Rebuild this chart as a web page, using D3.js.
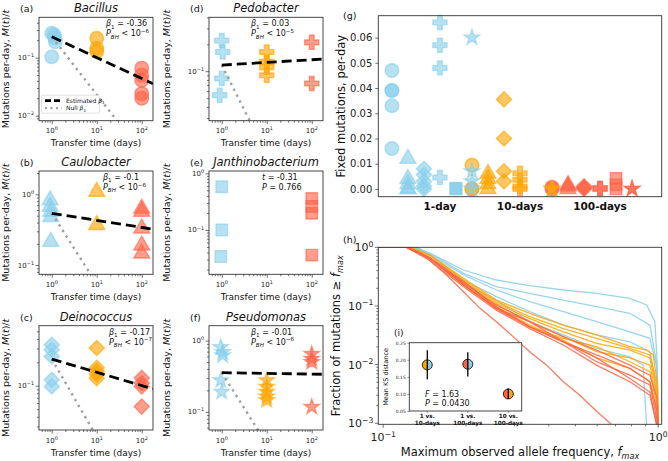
<!DOCTYPE html>
<html>
<head>
<meta charset="utf-8">
<script src="https://cdn.jsdelivr.net/npm/d3@7"></script>
<style>
  body { margin: 0; background: #fff; }
  svg { display: block; font-family: "DejaVu Sans", sans-serif; }
</style>
</head>
<body>
<svg width="668" height="461"></svg>
<script>
// colours for the three transfer times
const colDay1 = "#87CEEB", colDay10 = "#FFA500", colDay100 = "#FF6347";

// (a)-(f): mutations per day, [transfer time, M(t)/t]
const bacillusPts = [[1,0.264],[1.12,0.25],[1.18,0.22],[1.2,0.189],[1,0.104],[10,0.216],[10,0.145],[10,0.127],[100,0.066],[100,0.05],[100,0.041],[100,0.024],[100,0.02]];
const caulobacterPts = [[0.92,0.83],[0.92,0.67],[0.95,0.57],[0.95,0.48],[0.95,0.214],[10,1.09],[10,0.37],[100,0.63],[100,0.57],[100,0.33],[100,0.19],[100,0.146]];
const deinococcusPts = [[1,0.336],[1,0.29],[1,0.238],[1,0.119],[1,0.098],[10,0.305],[10,0.17],[10,0.155],[10,0.14],[10,0.125],[100,0.126],[100,0.108],[100,0.098],[100,0.054]];
const pedobacterPts = [[1,0.22],[1.05,0.164],[1,0.083],[0.9,0.054],[10,0.164],[10,0.127],[10,0.111],[10,0.09],[100,0.21],[100,0.073]];
const janthinoPts = [[1,0.58],[1,0.1],[0.95,0.034],[100,0.36],[100,0.26],[100,0.197],[100,0.036]];
const pseudomonasPts = [[0.95,0.81],[1.05,0.69],[1.05,0.62],[0.95,0.277],[1,0.19],[10,0.277],[10,0.224],[10,0.19],[10,0.163],[10,0.146],[100,0.65],[100,0.555],[100,0.5],[100,0.117]];

// fitted lines [value at t=1, beta1]
const fitBacillus = [0.23, -0.36];
const fitCaulobacter = [0.54, -0.1];
const fitDeinococcus = [0.22, -0.17];
const fitPedobacter = [0.117, 0.03];
const fitPseudomonas = [0.355, -0.01];

const speciesNames = ["Bacillus", "Caulobacter", "Deinococcus", "Pedobacter", "Janthinobacterium", "Pseudomonas"];
const betaLabels = ["-0.36", "-0.1", "-0.17", "0.03", null, "-0.01"];
const pbhExps = ["\u22126", "\u22126", "\u22127", "\u22125", null, "\u22126"];
const janthinoT = "-0.31", janthinoP = "0.766";

// (g): fixed mutations per day, per species: [1-day, 10-days, 100-days]
const fixedBacillus = [[0.047,0.039,0.039,0.033,0.016],[0.0095,0,0],[0.0007,0]];
const fixedCaulobacter = [[0.012,0.004,0.002,0,0],[0.006,0.004,0.002,0],[0.0016,0.001,0]];
const fixedDeinococcus = [[0.008,0.0056,0.003,0.001,0],[0.0355,0.020,0.007,0.003],[0.001,0.0005,0]];
const fixedPedobacter = [[0.066,0.057,0.048,0.0045],[0.0062,0.0036,0.0009,0],[0.0003,0]];
const fixedJanthino = [[0,0,0.0003],[],[0.0042,0.0016,0]];
const fixedPseudomonas = [[0.060,0.007,0.003,0],[0,0],[0,0]];
const groupLabels = ["1-day", "10-days", "100-days"];

// (h): fraction of mutations >= f_max, [f_max, fraction]
const blueCurves = [
  [[0.096,1],[0.129,1],[0.148,0.79],[0.196,0.41],[0.258,0.277],[0.341,0.222],[0.452,0.187],[0.597,0.164],[0.789,0.135],[0.908,0.104],[0.973,0.054],[0.99,0.013],[1.0,0.0009]],
  [[0.096,1],[0.132,1],[0.156,0.69],[0.196,0.36],[0.258,0.213],[0.341,0.164],[0.452,0.126],[0.597,0.097],[0.789,0.075],[0.933,0.047],[0.99,0.0098],[1.0,0.0009]],
  [[0.096,1],[0.132,1],[0.156,0.65],[0.196,0.337],[0.258,0.187],[0.341,0.118],[0.452,0.080],[0.597,0.054],[0.789,0.036],[0.933,0.028],[0.99,0.0086],[1.0,0.0009]],
  [[0.096,1],[0.13,1],[0.15,0.7],[0.196,0.243],[0.258,0.126],[0.341,0.054],[0.452,0.032],[0.597,0.0189],[0.789,0.0136],[0.881,0.0098],[0.908,0.0009]],
  [[0.096,1],[0.13,1],[0.15,0.7],[0.196,0.277],[0.258,0.144],[0.341,0.080],[0.452,0.047],[0.597,0.032],[0.789,0.0245],[0.933,0.0166],[0.973,0.0066],[0.986,0.0009]]
];
const orangeCurves = [
  [[0.096,1],[0.125,1],[0.148,0.74],[0.196,0.296],[0.258,0.126],[0.341,0.075],[0.452,0.047],[0.597,0.032],[0.789,0.0202],[0.908,0.0177],[0.959,0.0146],[0.995,0.0045],[1.0,0.0009]],
  [[0.096,1],[0.125,1],[0.148,0.65],[0.196,0.26],[0.258,0.111],[0.341,0.061],[0.452,0.036],[0.597,0.023],[0.789,0.0177],[0.933,0.013],[0.99,0.0034],[1.0,0.0009]],
  [[0.096,1],[0.124,1],[0.148,0.66],[0.196,0.243],[0.258,0.104],[0.341,0.054],[0.452,0.030],[0.597,0.0166],[0.789,0.013],[0.933,0.0098],[0.99,0.0027],[1.0,0.0009]],
  [[0.096,1],[0.124,1],[0.148,0.64],[0.196,0.228],[0.258,0.097],[0.341,0.047],[0.452,0.026],[0.597,0.013],[0.789,0.0086],[0.933,0.0051],[0.99,0.0016],[1.0,0.0009]],
  [[0.096,1],[0.126,1],[0.15,0.7],[0.196,0.277],[0.258,0.118],[0.341,0.066],[0.452,0.041],[0.597,0.028],[0.789,0.0189],[0.933,0.0146],[0.99,0.0045],[1.0,0.0009]],
  [[0.096,1],[0.125,1],[0.148,0.66],[0.196,0.26],[0.258,0.091],[0.341,0.044],[0.452,0.028],[0.597,0.0202],[0.789,0.0112],[0.933,0.0076],[0.99,0.002],[1.0,0.0009]]
];
const redCurves = [
  [[0.096,1],[0.1216,1],[0.140,0.74],[0.170,0.337],[0.196,0.175],[0.225,0.091],[0.258,0.054],[0.297,0.030],[0.341,0.0166],[0.393,0.0098],[0.452,0.0051],[0.519,0.003],[0.597,0.0016],[0.686,0.0009]],
  [[0.096,1],[0.122,1],[0.148,0.65],[0.196,0.228],[0.258,0.091],[0.341,0.044],[0.452,0.0245],[0.597,0.0146],[0.789,0.0086],[0.933,0.0051],[0.99,0.0016],[1.0,0.0009]],
  [[0.096,1],[0.122,1],[0.148,0.65],[0.196,0.243],[0.258,0.104],[0.341,0.054],[0.452,0.0245],[0.597,0.013],[0.789,0.0058],[0.933,0.0034],[0.99,0.0009]],
  [[0.096,1],[0.121,1],[0.146,0.62],[0.196,0.213],[0.258,0.085],[0.341,0.041],[0.452,0.0216],[0.597,0.0098],[0.789,0.0051],[0.933,0.003],[0.99,0.0009]],
  [[0.096,1],[0.123,1],[0.148,0.66],[0.196,0.26],[0.258,0.097],[0.341,0.044],[0.452,0.0245],[0.597,0.0112],[0.789,0.0066],[0.933,0.0045],[1.0,0.0009]],
  [[0.096,1],[0.122,1],[0.148,0.64],[0.196,0.228],[0.258,0.091],[0.341,0.054],[0.452,0.030],[0.597,0.0177],[0.789,0.0098],[0.933,0.0066],[0.99,0.00265],[1.0,0.0009]]
];

// (i): mean KS distance between transfer times
const ksLabels = [["1 vs.", "10-days"], ["1 vs.", "100-days"], ["10 vs.", "100-days"]];
const ksMean = [0.185, 0.187, 0.100];
const ksLow = [0.143, 0.151, 0.085];
const ksHigh = [0.228, 0.222, 0.116];
const ksColours = [[colDay10, colDay1], [colDay100, colDay1], [colDay100, colDay10]];
const ksF = "1.63", ksP = "0.0430";

const svg = d3.select("svg");
svg.append("rect").attr("width", 668).attr("height", 461).attr("fill", "#fff");
const axisCol = "#333";

// text with italic / sub / superscript pieces
function rich(sel, segs, size) {
  let shift = 0;
  segs.forEach(function (s) {
    const txt = s[0], st = s[1] || "";
    let target = 0, fs = size;
    if (st.indexOf("sub") >= 0) { target = 0.28 * size; fs = size * 0.7; }
    if (st.indexOf("sup") >= 0) { target = -0.42 * size; fs = size * 0.7; }
    const ts = sel.append("tspan").attr("dy", target - shift).attr("font-size", fs).text(txt);
    if (st.charAt(0) === "i") ts.attr("font-style", "italic");
    shift = target;
  });
  return sel;
}
function tenPow(e) { return [["10"], [e < 0 ? "\u2212" + (-e) : "" + e, "sup"]]; }

function logTicks(dom) {
  const out = [];
  const lo = Math.floor(Math.log10(dom[0])), hi = Math.ceil(Math.log10(dom[1]));
  for (let d = lo; d <= hi; d++) {
    for (let k = 1; k < 10; k++) {
      const v = k * Math.pow(10, d);
      if (v >= dom[0] * 0.9999 && v <= dom[1] * 1.0001) out.push({ v: v, major: k === 1, e: d });
    }
  }
  return out;
}

function colourFor(t) { return t < 3 ? colDay1 : (t < 30 ? colDay10 : colDay100); }

const shapes = {
  circle: d3.symbol().type(d3.symbolCircle).size(145)(),
  triangle: d3.symbol().type(d3.symbolTriangle).size(110)(),
  diamond: d3.symbol().type(d3.symbolSquare).size(115)(),
  plus: d3.symbol().type(d3.symbolCross).size(110)(),
  square: d3.symbol().type(d3.symbolSquare).size(130)(),
  star: d3.symbol().type(d3.symbolStar).size(72)()
};
const speciesShapes = ["circle", "triangle", "diamond", "plus", "square", "star"];

function marker(g, shape, cx, cy, col) {
  g.append("path")
    .attr("d", shapes[shape])
    .attr("transform", "translate(" + cx + "," + cy + ")" + (shape === "diamond" ? " rotate(45)" : ""))
    .attr("fill", col).attr("fill-opacity", 0.62)
    .attr("stroke", col).attr("stroke-opacity", 0.62).attr("stroke-width", 1.4);
}

function frame(g, x0, y0, x1, y1) {
  g.append("rect").attr("x", x0).attr("y", y0).attr("width", x1 - x0).attr("height", y1 - y0)
    .attr("fill", "none").attr("stroke", axisCol).attr("stroke-width", 0.9);
}

// ---------- (a)-(f) ----------
const xRate = [0.52, 178];
const ratePanels = [
  { id: "a", pts: bacillusPts, fit: fitBacillus, x0: 39, x1: 153, y0: 17.3, y1: 120.7, ydom: [0.0082, 0.497], tx: 106, legend: true },
  { id: "b", pts: caulobacterPts, fit: fitCaulobacter, x0: 39, x1: 153, y0: 171, y1: 274.3, ydom: [0.074, 2.14], tx: 103 },
  { id: "c", pts: deinococcusPts, fit: fitDeinococcus, x0: 39, x1: 153, y0: 325.7, y1: 430, ydom: [0.027, 0.59], tx: 109 },
  { id: "d", pts: pedobacterPts, fit: fitPedobacter, x0: 209, x1: 323, y0: 17.3, y1: 120.7, ydom: [0.028, 0.40], tx: 251 },
  { id: "e", pts: janthinoPts, fit: null, x0: 209, x1: 323, y0: 171, y1: 274.3, ydom: [0.0165, 1.1], tx: 262 },
  { id: "f", pts: pseudomonasPts, fit: fitPseudomonas, x0: 209, x1: 323, y0: 325.7, y1: 430, ydom: [0.0556, 1.62], tx: 251 }
];

ratePanels.forEach(function (p, i) {
  const x = d3.scaleLog().domain(xRate).range([p.x0, p.x1]);
  const y = d3.scaleLog().domain(p.ydom).range([p.y1, p.y0]);
  const g = svg.append("g");
  const clip = "url(#clip" + p.id + ")";
  g.append("clipPath").attr("id", "clip" + p.id).append("rect")
    .attr("x", p.x0).attr("y", p.y0).attr("width", p.x1 - p.x0).attr("height", p.y1 - p.y0);

  // ticks
  const xt = logTicks(xRate), yt = logTicks(p.ydom);
  g.append("g").attr("transform", "translate(0," + p.y1 + ")")
    .call(d3.axisBottom(x).tickValues(xt.filter(d => !d.major).map(d => d.v)).tickSize(2).tickFormat(""))
    .call(a => a.select(".domain").remove());
  g.append("g").attr("transform", "translate(0," + p.y1 + ")")
    .call(d3.axisBottom(x).tickValues(xt.filter(d => d.major).map(d => d.v)).tickSize(3.5).tickFormat(""))
    .call(a => a.select(".domain").remove());
  g.append("g").attr("transform", "translate(" + p.x0 + ",0)")
    .call(d3.axisLeft(y).tickValues(yt.filter(d => !d.major).map(d => d.v)).tickSize(2).tickFormat(""))
    .call(a => a.select(".domain").remove());
  g.append("g").attr("transform", "translate(" + p.x0 + ",0)")
    .call(d3.axisLeft(y).tickValues(yt.filter(d => d.major).map(d => d.v)).tickSize(3.5).tickFormat(""))
    .call(a => a.select(".domain").remove());
  g.selectAll(".tick line").attr("stroke", axisCol).attr("stroke-width", 0.7);

  xt.filter(d => d.major).forEach(function (d) {
    rich(g.append("text").attr("x", x(d.v)).attr("y", p.y1 + 12.5).attr("text-anchor", "middle")
      .attr("fill", "#222").attr("font-size", 7), tenPow(d.e), 7);
  });
  yt.filter(d => d.major).forEach(function (d) {
    rich(g.append("text").attr("x", p.x0 - 5).attr("y", y(d.v) + 2.5).attr("text-anchor", "end")
      .attr("fill", "#222").attr("font-size", 7), tenPow(d.e), 7);
  });

  // markers
  const mg = g.append("g").attr("clip-path", clip);
  p.pts.forEach(function (d) {
    marker(mg, speciesShapes[i], x(d[0]), y(d[1]), colourFor(d[0]));
  });

  // estimated and null slopes
  if (p.fit) {
    const a = p.fit[0], b = p.fit[1];
    const fitLine = d3.line().x(d => x(d)).y(d => y(a * Math.pow(d, b)));
    const nullLine = d3.line().x(d => x(d)).y(d => y(a / d));
    g.append("path").datum([1, 100]).attr("d", nullLine).attr("clip-path", clip)
      .attr("fill", "none").attr("stroke", "#a0a0a0").attr("stroke-width", 2.4).attr("stroke-dasharray", "2.4,4.2");
    g.append("path").datum([1, xRate[1]]).attr("d", fitLine).attr("clip-path", clip)
      .attr("fill", "none").attr("stroke", "#000").attr("stroke-width", 2.8).attr("stroke-dasharray", "10,5");
  }

  frame(g, p.x0, p.y0, p.x1, p.y1);

  // titles and labels
  g.append("text").attr("x", (p.x0 + p.x1) / 2).attr("y", p.y0 - 5).attr("text-anchor", "middle")
    .attr("font-size", 11.5).attr("font-style", "italic").attr("fill", "#111").text(speciesNames[i]);
  g.append("text").attr("x", p.x0 - 19).attr("y", p.y0 - 5).attr("font-size", 9.5).attr("fill", "#111").text("(" + p.id + ")");
  g.append("text").attr("x", (p.x0 + p.x1) / 2).attr("y", p.y1 + 25.5).attr("text-anchor", "middle")
    .attr("font-size", 9).attr("fill", "#111").text("Transfer time (days)");
  const lx = p.x0 < 100 ? 9 : 170, ly = (p.y0 + p.y1) / 2;
  rich(g.append("text").attr("transform", "translate(" + lx + "," + ly + ") rotate(-90)").attr("text-anchor", "middle")
    .attr("dy", "0.35em").attr("fill", "#111").attr("font-size", 9.5),
    [["Mutations per-day, "], ["M", "i"], ["("], ["t", "i"], [")/"], ["t", "i"]], 9.5);

  // statistics
  const s1 = g.append("text").attr("x", p.tx).attr("y", p.y0 + 9).attr("font-size", 8).attr("fill", "#111");
  const s2 = g.append("text").attr("x", p.tx).attr("y", p.y0 + 19).attr("font-size", 8).attr("fill", "#111");
  if (p.fit) {
    rich(s1, [["\u03b2", "i"], ["1", "sub"], [" = " + betaLabels[i]]], 8);
    rich(s2, [["P", "i"], ["BH", "isub"], [" < 10"], [pbhExps[i], "sup"]], 8);
  } else {
    rich(s1, [["t", "i"], [" = " + janthinoT]], 8);
    rich(s2, [["P", "i"], [" = " + janthinoP]], 8);
  }

  if (p.legend) {
    const lg = g.append("g");
    lg.append("rect").attr("x", p.x0 + 2.5).attr("y", p.y1 - 25.5).attr("width", 58).attr("height", 18)
      .attr("rx", 1.5).attr("fill", "#fff").attr("fill-opacity", 0.85).attr("stroke", "#ccc").attr("stroke-width", 0.6);
    lg.append("line").attr("x1", p.x0 + 6).attr("x2", p.x0 + 23).attr("y1", p.y1 - 20).attr("y2", p.y1 - 20)
      .attr("stroke", "#000").attr("stroke-width", 2.8).attr("stroke-dasharray", "6,3");
    lg.append("line").attr("x1", p.x0 + 6).attr("x2", p.x0 + 23).attr("y1", p.y1 - 12.5).attr("y2", p.y1 - 12.5)
      .attr("stroke", "#a0a0a0").attr("stroke-width", 2.2).attr("stroke-dasharray", "2,3.5");
    rich(lg.append("text").attr("x", p.x0 + 27).attr("y", p.y1 - 18).attr("font-size", 6).attr("fill", "#111"),
      [["Estimated "], ["\u03b2", "i"], ["1", "sub"]], 6);
    rich(lg.append("text").attr("x", p.x0 + 27).attr("y", p.y1 - 10.5).attr("font-size", 6).attr("fill", "#111"),
      [["Null "], ["\u03b2", "i"], ["1", "sub"]], 6);
  }
});

// ---------- (g) ----------
(function () {
  const x0 = 378.3, x1 = 661.7, y0 = 15.7, y1 = 196.7;
  const x = d3.scaleLinear().domain([-0.77, 2.77]).range([x0, x1]);
  const y = d3.scaleLinear().domain([-0.0031, 0.0687]).range([y1, y0]);
  const g = svg.append("g");
  const fixedAll = [fixedBacillus, fixedCaulobacter, fixedDeinococcus, fixedPedobacter, fixedJanthino, fixedPseudomonas];
  const groupCols = [colDay1, colDay10, colDay100];
  fixedAll.forEach(function (sp, si) {
    sp.forEach(function (vals, gi) {
      vals.forEach(function (v) {
        marker(g, speciesShapes[si], x(gi + (si - 3) * 0.2), y(v), groupCols[gi]);
      });
    });
  });
  g.append("g").attr("transform", "translate(" + x0 + ",0)")
    .call(d3.axisLeft(y).tickValues([0, 0.01, 0.02, 0.03, 0.04, 0.05, 0.06]).tickSize(3).tickPadding(3).tickFormat(d3.format(".2f")))
    .call(a => a.select(".domain").remove())
    .call(a => a.selectAll("text").attr("font-size", 10).attr("fill", "#222").attr("font-family", "DejaVu Sans"))
    .call(a => a.selectAll("line").attr("stroke", axisCol).attr("stroke-width", 0.7));
  groupLabels.forEach(function (l, gi) {
    g.append("text").attr("x", x(gi)).attr("y", y1 + 13).attr("text-anchor", "middle")
      .attr("font-size", 10.5).attr("font-weight", "bold").attr("fill", "#111").text(l);
  });
  frame(g, x0, y0, x1, y1);
  g.append("text").attr("transform", "translate(341," + (y0 + y1) / 2 + ") rotate(-90)").attr("text-anchor", "middle")
    .attr("dy", "0.35em").attr("font-size", 11.5).attr("fill", "#111").text("Fixed mutations, per-day");
  g.append("text").attr("x", 343).attr("y", 19).attr("font-size", 9.5).attr("fill", "#111").text("(g)");
})();

// ---------- (h) and inset (i) ----------
(function () {
  const x0 = 378.3, x1 = 661.7, y0 = 247.3, y1 = 424.3;
  const xd = [0.096, 1.03], yd = [0.00096, 1];
  const x = d3.scaleLog().domain(xd).range([x0, x1]);
  const y = d3.scaleLog().domain(yd).range([y1, y0]);
  const g = svg.append("g");
  g.append("clipPath").attr("id", "cliph").append("rect").attr("x", x0).attr("y", y0).attr("width", x1 - x0).attr("height", y1 - y0);
  const line = d3.line().x(d => x(d[0])).y(d => y(d[1]));
  const lg = g.append("g").attr("clip-path", "url(#cliph)");
  [[blueCurves, colDay1], [orangeCurves, colDay10], [redCurves, colDay100]].forEach(function (set) {
    set[0].forEach(function (c) {
      lg.append("path").datum(c).attr("d", line).attr("fill", "none")
        .attr("stroke", set[1]).attr("stroke-opacity", 0.85).attr("stroke-width", 1.3);
    });
  });

  const xt = logTicks(xd), yt = logTicks(yd);
  xt.forEach(function (d) {
    g.append("line").attr("x1", x(d.v)).attr("x2", x(d.v)).attr("y1", y1).attr("y2", y1 + (d.major ? 3.5 : 2))
      .attr("stroke", axisCol).attr("stroke-width", 0.7);
  });
  yt.forEach(function (d) {
    g.append("line").attr("x1", x0 - (d.major ? 3.5 : 2)).attr("x2", x0).attr("y1", y(d.v)).attr("y2", y(d.v))
      .attr("stroke", axisCol).attr("stroke-width", 0.7);
  });
  xt.filter(d => d.major).forEach(function (d) {
    rich(g.append("text").attr("x", x(d.v)).attr("y", y1 + 17).attr("text-anchor", "middle")
      .attr("font-size", 11).attr("fill", "#222"), tenPow(d.e), 11);
  });
  yt.filter(d => d.major).forEach(function (d) {
    rich(g.append("text").attr("x", x0 - 5).attr("y", y(d.v) + 4).attr("text-anchor", "end")
      .attr("font-size", 11).attr("fill", "#222"), tenPow(d.e), 11);
  });
  frame(g, x0, y0, x1, y1);
  rich(g.append("text").attr("x", (x0 + x1) / 2).attr("y", 456).attr("text-anchor", "middle").attr("font-size", 11.5).attr("fill", "#111"),
    [["Maximum observed allele frequency, "], ["f", "i"], ["max", "isub"]], 11.5);
  rich(g.append("text").attr("transform", "translate(340," + (y0 + y1) / 2 + ") rotate(-90)").attr("text-anchor", "middle")
    .attr("dy", "0.35em").attr("font-size", 11.5).attr("fill", "#111"),
    [["Fraction of mutations \u2265 "], ["f", "i"], ["max", "isub"]], 11.5);
  g.append("text").attr("x", 343).attr("y", 243).attr("font-size", 9.5).attr("fill", "#111").text("(h)");

  // inset
  const ix0 = 409.3, ix1 = 521.7, iy0 = 342.7, iy1 = 411;
  const ix = d3.scaleLinear().domain([-0.444, 2.33]).range([ix0, ix1]);
  const iy = d3.scaleLinear().domain([0.05, 0.25]).range([iy1, iy0]);
  const ig = svg.append("g");
  ig.append("rect").attr("x", ix0).attr("y", iy0).attr("width", ix1 - ix0).attr("height", iy1 - iy0).attr("fill", "#fff");
  ig.append("g").attr("transform", "translate(" + ix0 + ",0)")
    .call(d3.axisLeft(iy).tickValues([0.05, 0.10, 0.15, 0.20, 0.25]).tickSize(2).tickPadding(1.5).tickFormat(d3.format(".2f")))
    .call(a => a.select(".domain").remove())
    .call(a => a.selectAll("text").attr("font-size", 4.5).attr("fill", "#222").attr("font-family", "DejaVu Sans"))
    .call(a => a.selectAll("line").attr("stroke", axisCol).attr("stroke-width", 0.5));
  ksLabels.forEach(function (l, k) {
    ig.append("line").attr("x1", ix(k)).attr("x2", ix(k)).attr("y1", iy1).attr("y2", iy1 + 2).attr("stroke", axisCol).attr("stroke-width", 0.5);
    ig.append("text").attr("x", ix(k)).attr("y", iy1 + 7).attr("text-anchor", "middle").attr("font-size", 5.7)
      .attr("font-weight", "bold").attr("fill", "#111").text(l[0]);
    ig.append("text").attr("x", ix(k)).attr("y", iy1 + 13.5).attr("text-anchor", "middle").attr("font-size", 5.7)
      .attr("font-weight", "bold").attr("fill", "#111").text(l[1]);
  });
  const half = d3.arc().innerRadius(0).outerRadius(5);
  ksMean.forEach(function (m, k) {
    const cg = ig.append("g").attr("transform", "translate(" + ix(k) + "," + iy(m) + ")");
    cg.append("path").attr("d", half({ startAngle: Math.PI, endAngle: 2 * Math.PI })).attr("fill", ksColours[k][0]);
    cg.append("path").attr("d", half({ startAngle: 0, endAngle: Math.PI })).attr("fill", ksColours[k][1]);
    cg.append("circle").attr("r", 5).attr("fill", "none").attr("stroke", "#000").attr("stroke-width", 0.8);
    ig.append("line").attr("x1", ix(k)).attr("x2", ix(k)).attr("y1", iy(ksLow[k])).attr("y2", iy(ksHigh[k]))
      .attr("stroke", "#000").attr("stroke-width", 1.3);
  });
  frame(ig, ix0, iy0, ix1, iy1);
  rich(ig.append("text").attr("x", 425).attr("y", 397).attr("font-size", 8).attr("fill", "#111"), [["F", "i"], [" = " + ksF]], 8);
  rich(ig.append("text").attr("x", 425).attr("y", 405.5).attr("font-size", 8).attr("fill", "#111"), [["P", "i"], [" = " + ksP]], 8);
  ig.append("text").attr("transform", "translate(386," + (iy0 + iy1) / 2 + ") rotate(-90)").attr("text-anchor", "middle")
    .attr("dy", "0.35em").attr("font-size", 6.5).attr("fill", "#111").text("Mean KS distance");
  ig.append("text").attr("x", 394).attr("y", 336).attr("font-size", 9).attr("fill", "#111").text("(i)");
})();
</script>
</body>
</html>
